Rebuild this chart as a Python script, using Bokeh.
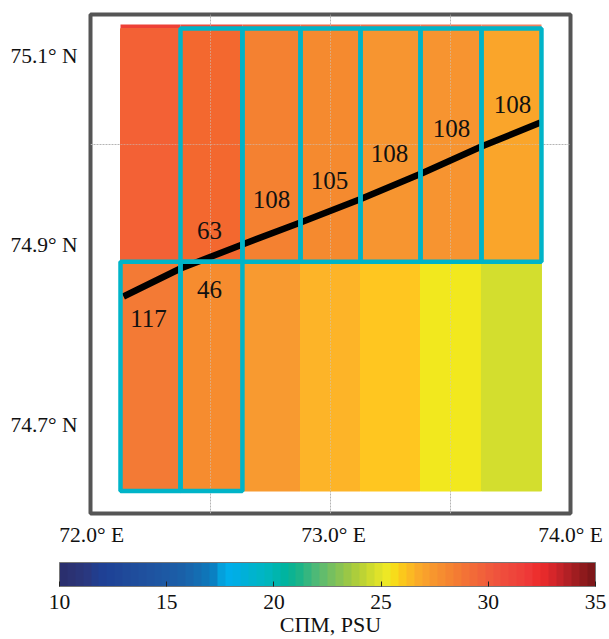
from bokeh.plotting import figure
from bokeh.models import FixedTicker, Range1d, ColorBar, LinearColorMapper
from bokeh.core.properties import value
from bokeh.embed import file_html
from bokeh.resources import INLINE

FONT = "Liberation Serif"

# salinity grid (cell edges, degrees) and cell colours
lon_edges = [72.125, 72.375, 72.633, 72.875, 73.125, 73.375, 73.629, 73.879]
lat_top, lat_mid, lat_bottom = 75.13, 74.873, 74.625
upper_colors = ["#F36135", "#F3682F", "#F48131", "#F58A2F", "#F79530", "#F79430", "#FAA52A"]
lower_colors = ["#F37A35", "#F68C2F", "#F89A30", "#FDB428", "#FFC620", "#F2E81E", "#D3DE2E"]
strip_lat = 75.1255
strip_colors = ["#EE4036", "#EE4C3C", "#F0603F", "#F06A45", "#F0704A", "#F07550", "#F08060"]

# teal boxes
upper_box_cols = [1, 2, 3, 4, 5, 6]
lower_box_cols = [0, 1]
box_top = 75.1255

# transect
track_lon = [72.1375, 72.375, 72.633, 72.875, 73.121, 73.379, 73.629, 73.875]
track_lat = [74.8355, 74.8658, 74.8918, 74.9156, 74.9405, 74.9686, 74.9978, 75.0238]

# counts
count_text = ["63", "108", "105", "108", "108", "108", "46", "117"]
count_lon = [72.496, 72.754, 72.996, 73.246, 73.504, 73.758, 72.496, 72.242]
count_lat = [74.9069, 74.9405, 74.961, 74.9903, 75.0173, 75.0433, 74.8431, 74.8117]

x_ticks = [72.005, 73.0125, 74.0]
x_labels = {72.005: "72.0° E", 73.0125: "73.0° E", 74.0: "74.0° E"}
y_ticks = [75.0958, 74.8907, 74.6959]
y_labels = {75.0958: "75.1° N", 74.8907: "74.9° N", 74.6959: "74.7° N"}
grid_x = [72.5, 73.0, 73.5]
grid_y = [75.0]

# colour bar
cbar_ticks = [10, 15, 20, 25, 30, 35]
cbar_title = "СПМ, PSU"
cbar_colors = [
    "#2A2F6E", "#2B3273", "#2A3579", "#293880", "#223D8C", "#1F4094", "#1E4397", "#1F4698",
    "#1F4A9A", "#1F4D9C", "#1F509E", "#1F53A0", "#1E56A2", "#1D59A4", "#1C5CA6", "#1A60A8",
    "#1866AD", "#146DB2", "#0F75B8", "#0A80C2", "#04A0DC", "#00AEEA", "#00AEE4", "#00B0D8",
    "#00B3CE", "#00B5C6", "#00B6BC", "#00B5AE", "#00B4A0", "#0CB392", "#1CB488", "#35B67F",
    "#4DB977", "#62BC6C", "#76BF5F", "#88C353", "#9AC746", "#ACCD3C", "#BDD334", "#CEDB2E",
    "#DFE22A", "#EDE825", "#F7DC1A", "#FBC81C", "#FBB923", "#FAAA29", "#F9A02C", "#F7962E",
    "#F68D30", "#F58431", "#F47B33", "#F37236", "#F26A38", "#F1623A", "#F05A3C", "#EF533D",
    "#EF4C3C", "#EE463B", "#EE4039", "#EE3837", "#ED2F2E", "#E62A2B", "#D6262A", "#C42328",
    "#B22025", "#A01D20", "#8E1A1C", "#7E1719",
]

ppd_y = 924.0
y_hi = 75.0 + (144 - 14) / ppd_y
y_lo = 75.0 - (513 - 144) / ppd_y

p = figure(width=609, height=639, x_range=Range1d(72.0, 74.0), y_range=Range1d(y_lo, y_hi),
           output_backend="svg", toolbar_location=None, min_border_left=90, min_border_right=39,
           min_border_top=14, min_border_bottom=126, margin=0)
p.outline_line_color = "#555555"
p.outline_line_width = 4
p.background_fill_color = "white"

p.xgrid.ticker = FixedTicker(ticks=grid_x)
p.ygrid.ticker = FixedTicker(ticks=grid_y)
for g in (p.xgrid, p.ygrid):
    g.grid_line_color = "#b4b4b4"
    g.grid_line_dash = "2 1"
    g.grid_line_width = 1

for ax, ticks, labels in ((p.xaxis[0], x_ticks, x_labels), (p.yaxis[0], y_ticks, y_labels)):
    ax.ticker = FixedTicker(ticks=ticks)
    ax.major_label_overrides = labels
    ax.major_tick_line_color = None
    ax.minor_tick_line_color = None
    ax.axis_line_color = None
    ax.major_label_text_font = FONT
    ax.major_label_text_font_size = "21.5px"
    ax.major_label_text_color = "#111111"
p.xaxis.major_label_standoff = 3
p.yaxis.major_label_standoff = 7
p.xaxis.axis_label = cbar_title
p.xaxis.axis_label_text_font = FONT
p.xaxis.axis_label_text_font_size = "22px"
p.xaxis.axis_label_text_font_style = "normal"
p.xaxis.axis_label_text_color = "#111111"
p.xaxis.axis_label_standoff = 62

left = lon_edges[:-1]
right = lon_edges[1:]
p.quad(left=left, right=right, top=lat_top, bottom=strip_lat, fill_color=strip_colors, line_color=None)
p.quad(left=left, right=right, top=strip_lat, bottom=lat_mid, fill_color=upper_colors, line_color=upper_colors)
p.quad(left=left, right=right, top=lat_mid, bottom=lat_bottom, fill_color=lower_colors, line_color=lower_colors)

# faint grid lines over the cells
p.segment(x0=grid_x, x1=grid_x, y0=lat_bottom, y1=lat_top, line_color="#c8c8c8", line_alpha=0.5,
          line_dash="2 1", line_width=1)
p.segment(x0=lon_edges[0], x1=lon_edges[-1], y0=grid_y, y1=grid_y, line_color="#c8c8c8", line_alpha=0.5,
          line_dash="2 1", line_width=1)

p.line(track_lon, track_lat, line_color="black", line_width=6.5, line_cap="butt")

TEAL = "#00B4C8"
p.quad(left=[left[i] for i in upper_box_cols], right=[right[i] for i in upper_box_cols],
       top=box_top, bottom=lat_mid, fill_color=None, line_color=TEAL, line_width=4.5)
p.quad(left=[left[i] for i in lower_box_cols], right=[right[i] for i in lower_box_cols],
       top=lat_mid, bottom=lat_bottom, fill_color=None, line_color=TEAL, line_width=4.5)

p.text(x=count_lon, y=count_lat, text=count_text, text_font=value(FONT), text_font_size="25px",
       text_color="#111111", text_align="center", text_baseline="middle")

# colour bar, placed relative to the frame
mapper = LinearColorMapper(palette=cbar_colors, low=cbar_ticks[0], high=cbar_ticks[-1])
cb = ColorBar(color_mapper=mapper, orientation="horizontal", width=536, height=24,
              location=(-31, -98), padding=0, margin=0, background_fill_color=None,
              border_line_color=None, bar_line_color="#777777", bar_line_width=1,
              ticker=FixedTicker(ticks=cbar_ticks), major_tick_in=5, major_tick_out=0,
              major_tick_line_color="#222222", minor_tick_line_color=None,
              label_standoff=8, major_label_text_font=FONT, major_label_text_font_size="21.5px",
              major_label_text_color="#111111")
p.add_layout(cb, "center")

open("out.html", "w").write(file_html(p, INLINE))
